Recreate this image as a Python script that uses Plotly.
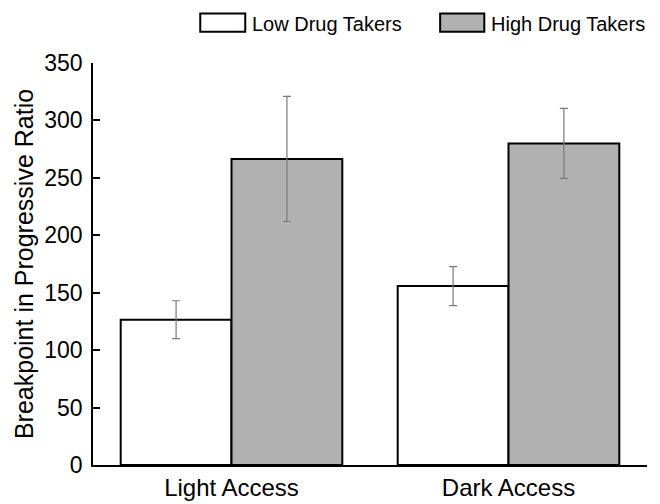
import plotly.graph_objects as go

categories = ["Light Access", "Dark Access"]
low_values = [126.5, 155.8]
low_errors = [16.5, 17.0]
high_values = [266.5, 280.0]
high_errors = [54.5, 30.5]
series_names = ["Low Drug Takers", "High Drug Takers"]
y_ticks = [0, 50, 100, 150, 200, 250, 300, 350]

FONT = "Liberation Sans, Arial, sans-serif"
err_style = dict(type="data", visible=True, color="#7a7a7a", thickness=1.2, width=4)

fig = go.Figure()
fig.add_trace(go.Bar(
    x=categories, y=low_values, name=series_names[0],
    marker=dict(color="white", line=dict(color="black", width=2)),
    error_y=dict(array=low_errors, **err_style),
))
fig.add_trace(go.Bar(
    x=categories, y=high_values, name=series_names[1],
    marker=dict(color="#b1b1b1", line=dict(color="black", width=2)),
    error_y=dict(array=high_errors, **err_style),
))

# custom legend (wide rectangles like the reference)
legend_items = [(0.1936, 0.2748, "white"), (0.6266, 0.7063, "#b1b1b1")]
for (x0, x1, col), name in zip(legend_items, series_names):
    fig.add_shape(type="rect", xref="paper", yref="paper",
                  x0=x0, x1=x1, y0=1.078, y1=1.123,
                  fillcolor=col, line=dict(color="black", width=2))
    fig.add_annotation(x=x1 + 0.009, y=1.098, xref="paper", yref="paper",
                       text=name, showarrow=False, xanchor="left", yanchor="middle",
                       font=dict(family=FONT, size=20, color="black"))

# page body has an 8px margin, so the figure is sized/offset to compensate
fig.update_layout(
    width=652, height=496,
    margin=dict(l=85, r=13, t=55, b=39),
    plot_bgcolor="white", paper_bgcolor="white",
    barmode="group", bargap=0.2, bargroupgap=0,
    showlegend=False,
    font=dict(family=FONT, color="black"),
)
fig.update_xaxes(
    showline=True, linecolor="black", linewidth=1.5,
    ticks="", showgrid=False, zeroline=False, automargin=False,
    tickfont=dict(size=24, family=FONT, color="black"),
    range=[-0.5, 1.5],
)
fig.update_yaxes(
    range=[0, 350], tickvals=y_ticks, automargin=False,
    showline=True, linecolor="black", linewidth=1.5,
    ticks="inside", ticklen=7, tickcolor="black", tickwidth=1.5,
    ticklabelstandoff=4,
    showgrid=False, zeroline=False,
    tickfont=dict(size=23, family=FONT, color="black"),
    title=dict(text="Breakpoint in Progressive Ratio",
               font=dict(size=25, family=FONT, color="black"), standoff=4),
)

fig.write_html("out.html")
